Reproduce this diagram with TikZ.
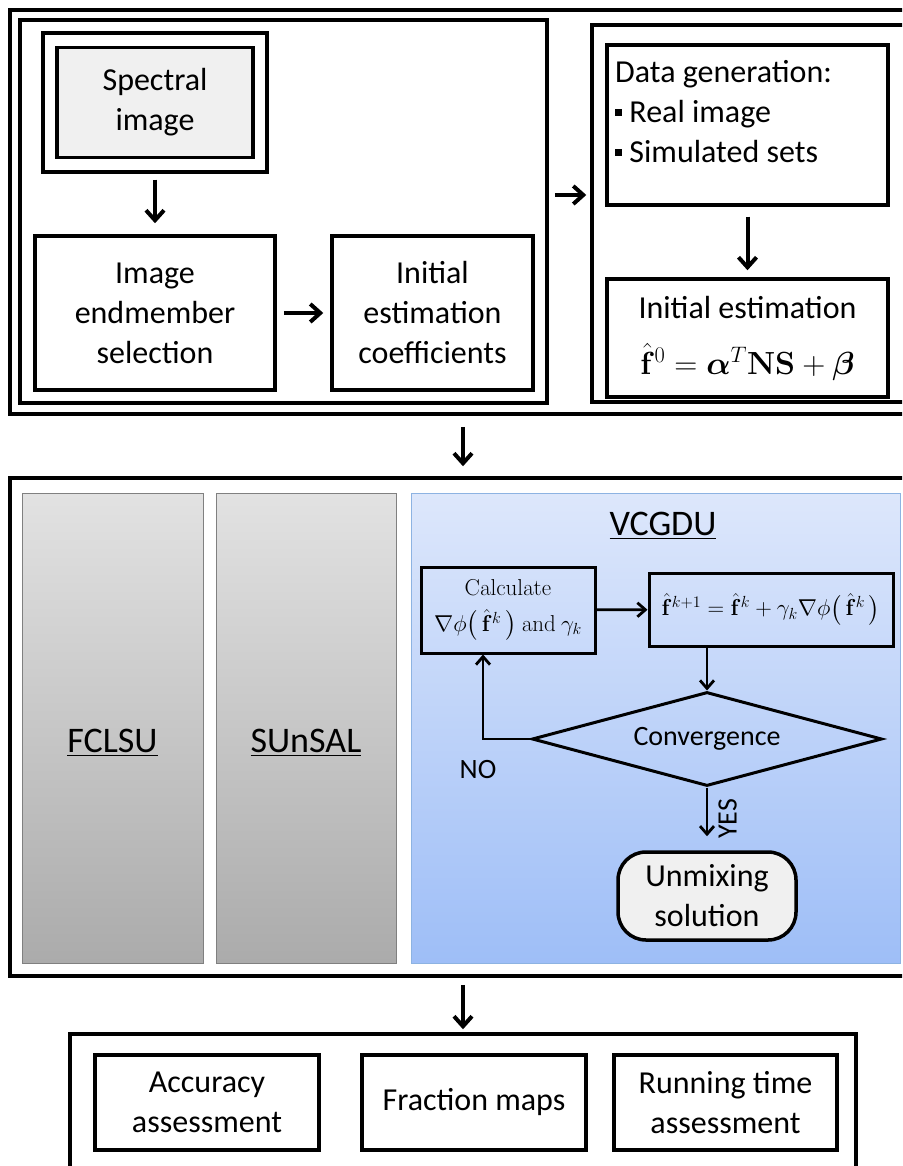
\RequirePackage{fix-cm}
\documentclass[tikz,border=0pt]{standalone}
\usepackage{amsmath}
\usepackage{bm}
\usepackage[no-math]{fontspec}
\setmainfont{Carlito}
\usetikzlibrary{shapes.geometric, positioning, arrows.meta}

\definecolor{bluetop}{HTML}{DDE7FB}
\definecolor{bluebot}{HTML}{9EBEF7}
\definecolor{blueedge}{HTML}{8DB3E2}
\definecolor{graytop}{HTML}{E2E2E2}
\definecolor{graybot}{HTML}{ABABAB}

\newcommand\bigtxt{\fontsize{32}{40}\selectfont}
\newcommand\titletxt{\fontsize{36}{42}\selectfont}
\newcommand\midtxt{\fontsize{28}{34}\selectfont}
\newcommand\mathtxt{\fontsize{23}{30}\selectfont}
\newcommand\sqbul{\rule[6pt]{7pt}{7pt}}

\begin{document}
\begin{tikzpicture}[x=1pt, y=-1pt,
    grp/.style={draw, line width=3.5pt},
    box/.style={draw, line width=3.5pt, align=center, font=\bigtxt, inner sep=0pt},
    mbox/.style={draw, line width=3pt, align=center, font=\mathtxt, inner sep=0pt},
    panel/.style={draw=black!50, line width=0.8pt, top color=graytop, bottom color=graybot},
    arrow/.style={-{Straight Barb[length=10pt, width=18pt]}, line width=4pt},
    thinarrow/.style={-{Straight Barb[length=8pt, width=14pt]}, line width=2.8pt}
]
    \useasboundingbox (0,0) rectangle (902,1166);
    \clip (0,0) rectangle (902,1166);

    % top block
    \node[grp, minimum width=906, minimum height=404] (topgrp) at (463,212) {};
    \node[grp, minimum width=527, minimum height=383] (leftgrp) at (283.5,211.5) {};
    \node[grp, minimum width=328, minimum height=377] (rightgrp) at (756,213.5) {};

    \node[box, minimum width=224, minimum height=139] (specframe) at (155,102.5) {};
    \node[box, fill=black!6, minimum width=196, minimum height=110] (spec) at (155,102.5) {Spectral\\image};
    \node[box, minimum width=240, minimum height=154] (endm) at (155,313) {Image\\endmember\\selection};
    \node[box, minimum width=201, minimum height=154] (coef) at (432.5,313) {Initial\\estimation\\coefficients};

    \node[box, minimum width=281, minimum height=160] (datagen) at (747.5,125) {};
    \node[anchor=north west, align=left, font=\bigtxt, inner sep=0pt] (datatxt) at (615,60)
        {Data generation:\\ \sqbul\ Real image\\ \sqbul\ Simulated sets};
    \node[box, minimum width=281, minimum height=118] (initest) at (747.5,338)
        {Initial estimation\\[16pt] $\hat{\mathbf{f}}^{0}=\bm{\alpha}^{T}\mathbf{NS}+\bm{\beta}$};

    \draw[arrow, shorten <=6pt, shorten >=11pt] (specframe) -- (endm);
    \draw[arrow, shorten <=7pt, shorten >=7pt] (endm) -- (coef);
    \draw[arrow, shorten <=6pt, shorten >=4pt] ([yshift=16.5pt]leftgrp.east) -- ([yshift=18.5pt]rightgrp.west);
    \draw[arrow, shorten <=10pt, shorten >=7pt] (datagen) -- (initest);

    % middle block
    \node[grp, minimum width=906, minimum height=498] (midgrp) at (463,727) {};
    \draw[arrow, shorten <=11pt, shorten >=10pt] (topgrp) -- (midgrp);
    \node[panel, minimum width=181, minimum height=470] (fclsu) at (112.5,728) {};
    \node[panel, minimum width=180, minimum height=470] (sunsal) at (306,728) {};
    \node[draw=blueedge, line width=0.8pt, top color=bluetop, bottom color=bluebot,
        minimum width=489, minimum height=470] (vcgdu) at (655.5,728) {};
    \node[font=\titletxt, anchor=base] (fcltxt) at (112.5,752) {\underline{FCLSU}};
    \node[font=\titletxt, anchor=base] (suntxt) at (306,752) {\underline{SUnSAL}};
    \node[font=\titletxt, anchor=base] (vcgtxt) at (663,535) {\underline{VCGDU}};

    \node[mbox, minimum width=174, minimum height=86] (calc) at (508,610)
        {$\mathrm{Calculate}$\\[6pt] $\nabla\phi\bigl(\,\hat{\mathbf{f}}^{k}\,\bigr)\ \mathrm{and}\ \gamma_{k}$};
    \node[mbox, minimum width=244, minimum height=73] (upd) at (771,609.5)
        {$\hat{\mathbf{f}}^{k+1}=\hat{\mathbf{f}}^{k}+\gamma_{k}\nabla\phi\bigl(\,\hat{\mathbf{f}}^{k}\,\bigr)$};
    \node[draw, diamond, aspect=3.7, line width=3pt, inner sep=0pt, font=\midtxt,
        minimum width=350, minimum height=94] (conv) at (707,739) {Convergence};
    \node[box, fill=black!6, rounded corners=28pt, minimum width=178, minimum height=88] (sol) at (707,896) {Unmixing\\solution};

    \draw[thinarrow] (calc) -- (upd);
    \draw[thinarrow] (upd.south -| conv.north) -- (conv.north);
    \draw[thinarrow] (conv.west) -| ([xshift=-25pt]calc.south);
    \node[font=\midtxt] (notxt) at (478,770) {NO};
    \draw[thinarrow, shorten >=14pt] (conv.south) -- (sol.north)
        node[midway, anchor=north, rotate=90, font=\midtxt, inner sep=10pt] (yestxt) {YES};

    % bottom block
    \node[grp, minimum width=786, minimum height=166] (botgrp) at (463,1117) {};
    \draw[arrow, shorten <=7pt, shorten >=3pt] (midgrp) -- (botgrp);
    \node[box, minimum width=224, minimum height=95] (acc) at (207,1102.5) {Accuracy\\assessment};
    \node[box, minimum width=224, minimum height=95] (frac) at (474,1102.5) {Fraction maps};
    \node[box, minimum width=223, minimum height=95] (run) at (725.5,1102.5) {Running time\\assessment};
\end{tikzpicture}
\end{document}
